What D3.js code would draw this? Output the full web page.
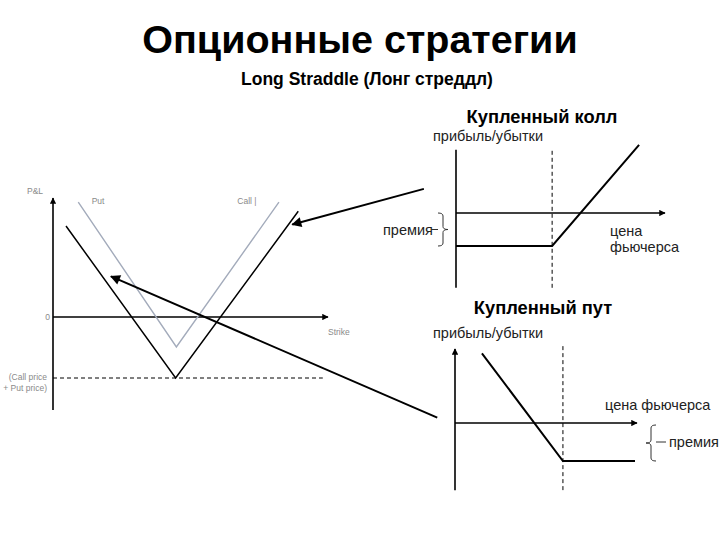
<!DOCTYPE html>
<meta charset="utf-8">
<title>Опционные стратегии</title>
<style>
body { margin: 0; background: #fff; }
svg { display: block; font-family: "Liberation Sans", Arial, sans-serif; }
.ax { stroke: #000; stroke-width: 1.6px; fill: none; }
.pay { stroke: #000; stroke-width: 2px; fill: none; }
.dash { stroke: #000; stroke-width: 1px; stroke-dasharray: 4,3; fill: none; }
.tiny { font-size: 8.5px; fill: #8a8a8a; }
.lbl { font-size: 14.5px; fill: #222; }
.sub { font-size: 18.3px; font-weight: bold; }
</style>
<svg id="chart" width="720" height="540"></svg>
<script src="https://cdn.jsdelivr.net/npm/d3@7"></script>
<script>
// left chart: long straddle (price units, P&L units)
const leftPrice = [0, 37];
const leftPnl = [-9.15, 11.7];
const totalPremium = -6;
const straddle = [[1.75, 8.95], [16.5, -6], [33, 10.4]];
const straddleLight = [[3.4, 11.3], [16.6, -2.95], [30.4, 11.3]];
// pointers from the right charts into the left one, in left chart units
const pointers = [
  {from: [49.9, 12.6], to: [32.2, 9.1]},
  {from: [51.7, -9.9], to: [7.8, 4.0]}
];

// bought call
const callPnl = [-6.8, 5.75];
const callStrike = 46;
const callPremium = -3;
const callPayoff = [[0, -3], [46, -3], [87.6, 6.2]];

// bought put
const putPnl = [-5.3, 5.85];
const putStrike = 59.3;
const putPremium = -3;
const putPayoff = [[14.8, 5.5], [59.3, -3], [98.9, -3]];

let svg = d3.select("#chart");

let defs = svg.append("defs");
defs.append("marker").attr("id", "big")
    .attr("viewBox", "0 0 10 10").attr("refX", 9).attr("refY", 5)
    .attr("markerWidth", 6).attr("markerHeight", 5)
    .attr("orient", "auto").attr("markerUnits", "strokeWidth")
  .append("path").attr("d", "M0,0L10,5L0,10z").attr("fill", "#000");
defs.append("marker").attr("id", "small")
    .attr("viewBox", "0 0 10 10").attr("refX", 9).attr("refY", 5)
    .attr("markerWidth", 5).attr("markerHeight", 4)
    .attr("orient", "auto").attr("markerUnits", "strokeWidth")
  .append("path").attr("d", "M0,0L10,5L0,10z").attr("fill", "#000");

// titles
svg.append("text").attr("x", 360).attr("y", 53).attr("text-anchor", "middle")
  .style("font-size", "39.5px").style("font-weight", "bold").text("Опционные стратегии");
svg.append("text").attr("x", 367).attr("y", 85).attr("text-anchor", "middle")
  .style("font-size", "17.5px").style("font-weight", "bold").text("Long Straddle (Лонг стреддл)");

let line = d3.line();

// ---- left chart
let xL = d3.scaleLinear().domain([0, 37]).range([53, 328]),
    yL = d3.scaleLinear().domain([-6, 0]).range([378, 317]);
let left = svg.append("g");
let lp = d => [xL(d[0]), yL(d[1])];

left.append("path").attr("class", "ax").attr("stroke-width", 1.3)
  .attr("d", line([[0, leftPnl[0]], [0, leftPnl[1]]].map(lp)))
  .attr("marker-end", "url(#small)");
left.append("path").attr("class", "ax").attr("stroke-width", 1.3)
  .attr("d", line([[leftPrice[0], 0], [leftPrice[1], 0]].map(lp)))
  .attr("marker-end", "url(#small)");
left.append("path").attr("class", "dash")
  .attr("d", line([[0, totalPremium], [36.3, totalPremium]].map(lp)));
left.append("path").attr("fill", "none").attr("stroke", "#a3abbb").attr("stroke-width", 1.4)
  .attr("d", line(straddleLight.map(lp)));
left.append("path").attr("fill", "none").attr("stroke", "#000").attr("stroke-width", 1.5)
  .attr("d", line(straddle.map(lp)));

left.append("text").attr("class", "tiny").attr("x", xL(0) - 26).attr("y", yL(leftPnl[1]) - 4).text("P&L");
left.append("text").attr("class", "tiny").attr("x", xL(5.2)).attr("y", yL(11.1)).text("Put");
left.append("text").attr("class", "tiny").attr("x", xL(24.8)).attr("y", yL(11.1)).text("Call |");
left.append("text").attr("class", "tiny").attr("x", xL(0) - 3).attr("y", yL(0) + 3)
  .attr("text-anchor", "end").text("0");
left.append("text").attr("class", "tiny").attr("x", xL(leftPrice[1])).attr("y", yL(0) + 18).text("Strike");
left.append("text").attr("class", "tiny").attr("x", xL(0) - 6).attr("y", yL(totalPremium) + 2)
  .attr("text-anchor", "end").text("(Call price");
left.append("text").attr("class", "tiny").attr("x", xL(0) - 6).attr("y", yL(totalPremium) + 13)
  .attr("text-anchor", "end").text("+ Put price)");

// ---- bought call
let xC = d3.scaleLinear().domain([0, 100]).range([456, 665]),
    yC = d3.scaleLinear().domain([-3, 0]).range([246, 213]);
let call = svg.append("g");
let cp = d => [xC(d[0]), yC(d[1])];
call.append("text").attr("class", "sub").attr("x", 542).attr("y", 123).attr("text-anchor", "middle").text("Купленный колл");
call.append("text").attr("class", "lbl").attr("x", 433).attr("y", 141).text("прибыль/убытки");
call.append("path").attr("class", "ax").attr("stroke-width", 2)
  .attr("d", line([[0, callPnl[0]], [0, callPnl[1]]].map(cp)));
call.append("path").attr("class", "dash")
  .attr("d", line([[callStrike, callPnl[0]], [callStrike, callPnl[1]]].map(cp)));
call.append("path").attr("class", "ax").attr("stroke-width", 2)
  .attr("d", line([[0, 0], [100, 0]].map(cp)))
  .attr("marker-end", "url(#small)");
call.append("path").attr("class", "pay").attr("d", line(callPayoff.map(cp)));
call.append("text").attr("class", "lbl").attr("x", 383).attr("y", yC(callPremium / 2) + 5).text("премия");
call.append("text").attr("class", "lbl").attr("x", 610).attr("y", 236).text("цена");
call.append("text").attr("class", "lbl").attr("x", 610).attr("y", 252).text("фьючерса");

// curly brace between two y values, tip pointing to dir (-1 left, +1 right)
function brace(x, y0, y1, dir) {
  let m = (y0 + y1) / 2, w = 5 * dir, r = 3;
  return "M" + (x + w) + "," + y0 +
    "Q" + x + "," + y0 + " " + x + "," + (y0 + r) +
    "L" + x + "," + (m - r) +
    "Q" + x + "," + m + " " + (x - w) + "," + m +
    "Q" + x + "," + m + " " + x + "," + (m + r) +
    "L" + x + "," + (y1 - r) +
    "Q" + x + "," + y1 + " " + (x + w) + "," + y1;
}
call.append("path").attr("fill", "none").attr("stroke", "#333").attr("stroke-width", 1)
  .attr("d", brace(443, yC(0), yC(callPremium), -1));
call.append("path").attr("stroke", "#333").attr("d", "M431," + yC(callPremium / 2) + "H438");

// ---- bought put
let xP = d3.scaleLinear().domain([0, 100]).range([455, 637]),
    yP = d3.scaleLinear().domain([-3, 0]).range([461, 423]);
let put = svg.append("g");
let pp = d => [xP(d[0]), yP(d[1])];
put.append("text").attr("class", "sub").attr("x", 543).attr("y", 314).attr("text-anchor", "middle").text("Купленный пут");
put.append("text").attr("class", "lbl").attr("x", 433).attr("y", 338).text("прибыль/убытки");
put.append("path").attr("class", "ax").attr("stroke-width", 2)
  .attr("d", line([[0, putPnl[0]], [0, putPnl[1]]].map(pp)))
  .attr("marker-end", "url(#small)");
put.append("path").attr("class", "dash")
  .attr("d", line([[putStrike, putPnl[0]], [putStrike, putPnl[1] + 0.3]].map(pp)));
put.append("path").attr("class", "ax").attr("stroke-width", 2)
  .attr("d", line([[0, 0], [100, 0]].map(pp)))
  .attr("marker-end", "url(#small)");
put.append("path").attr("class", "pay").attr("d", line(putPayoff.map(pp)));
put.append("text").attr("class", "lbl").attr("x", 605).attr("y", 410).text("цена фьючерса");
put.append("path").attr("fill", "none").attr("stroke", "#333").attr("stroke-width", 1)
  .attr("d", brace(651, yP(0) + 2, yP(putPremium), 1));
put.append("path").attr("stroke", "#333").attr("d", "M656," + yP(putPremium / 2) + "H666");
put.append("text").attr("class", "lbl").attr("x", 669).attr("y", yP(putPremium / 2) + 5).text("премия");

// ---- pointers
svg.append("g").selectAll("path").data(pointers).join("path")
  .attr("fill", "none").attr("stroke", "#000").attr("stroke-width", 2)
  .attr("d", d => line([lp(d.from), lp(d.to)]))
  .attr("marker-end", "url(#big)");
</script>
